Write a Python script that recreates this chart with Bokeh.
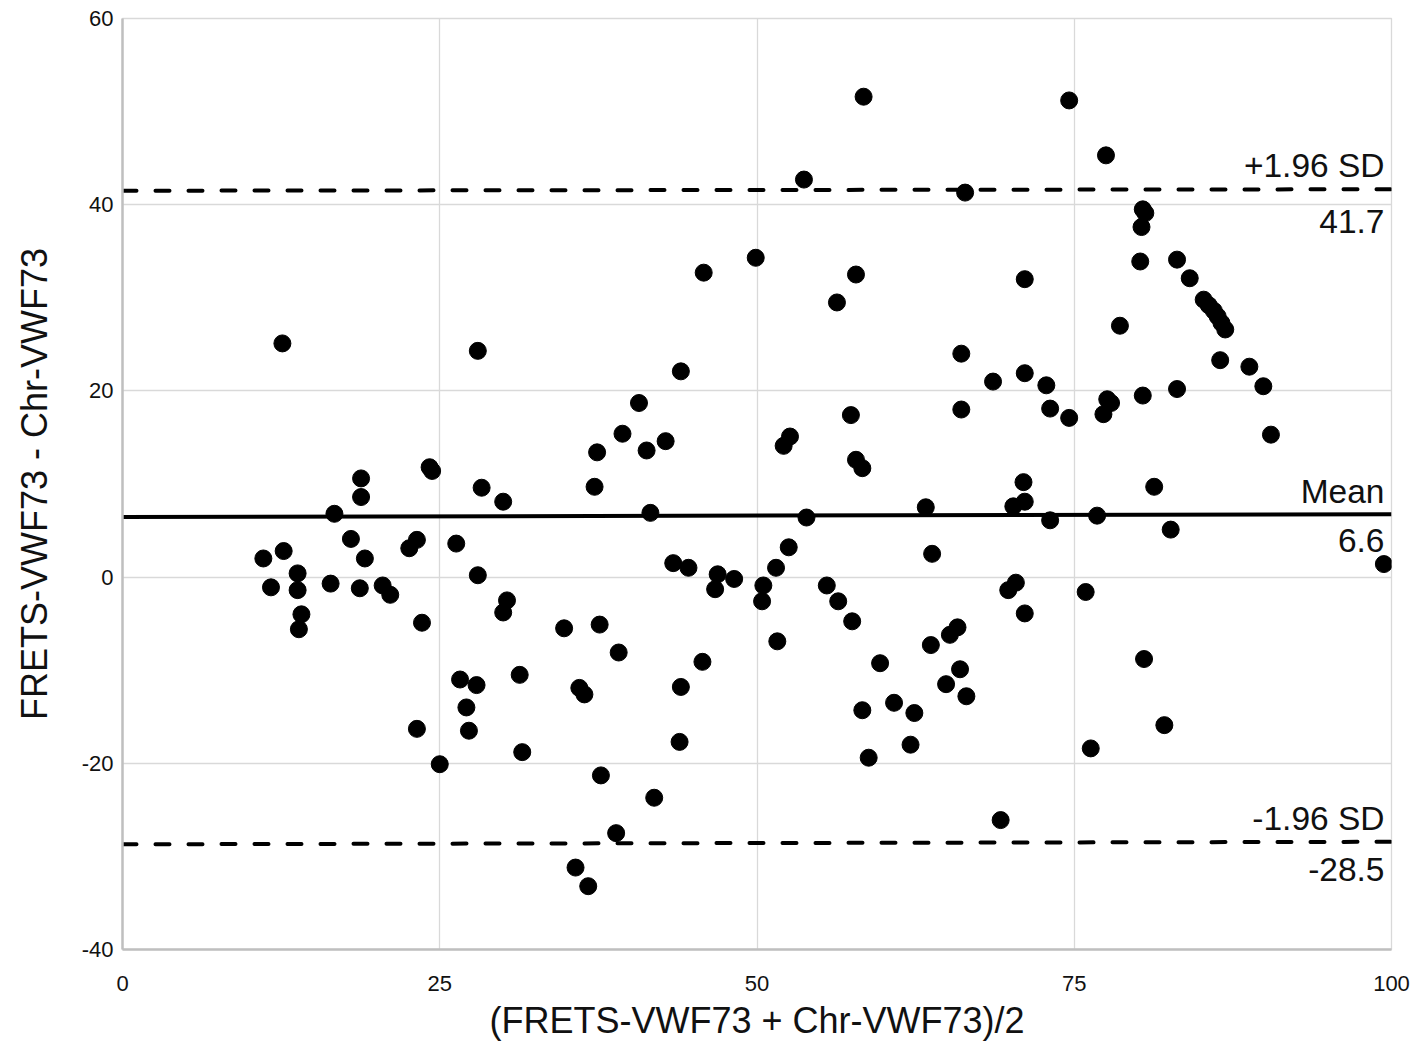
from bokeh.plotting import figure
from bokeh.models import Range1d, FixedTicker, ColumnDataSource, CustomJSTickFormatter
from bokeh.embed import file_html
from bokeh.resources import INLINE
from bokeh.core.properties import value

# Bland-Altman data: x = mean of the two methods, y = difference
mean_x = [
    11.1, 11.7, 12.7, 12.6, 13.8, 13.8, 13.9, 14.1, 16.7, 16.4, 18.0, 18.8, 18.8, 18.7, 19.1,
    20.5, 21.1, 22.6, 23.2, 23.6, 23.2, 24.2, 24.4, 25.0, 26.3, 26.6, 27.1, 27.3, 27.9, 28.0,
    28.0, 28.3, 30.0, 30.0, 30.3, 31.3, 31.5,
    34.8, 37.6, 37.4, 37.2, 39.4, 40.7, 41.3, 42.8, 41.6, 44.0, 45.8, 49.9, 43.4, 44.6, 46.9,
    46.7, 48.2, 50.5, 50.4, 39.1, 45.7, 36.0, 36.4, 44.0, 43.9, 37.7, 41.9, 38.9, 35.7, 36.7,
    58.4, 74.6, 53.7, 66.4, 57.8, 56.3, 71.1, 66.1, 68.6, 71.1, 72.8, 66.1, 73.1, 74.6, 57.4,
    52.6, 52.1, 57.8, 58.3, 71.0, 63.3, 70.2, 71.1, 73.1, 53.9, 52.5, 51.5, 55.5, 56.4, 57.5,
    51.6, 63.8, 70.4, 69.8, 71.1, 65.8, 65.2, 63.7, 66.0, 64.9, 66.5, 59.7, 58.3, 60.8, 62.4,
    62.1, 58.8, 69.2,
    77.5, 80.4, 80.6, 80.3, 80.2, 83.1, 84.1, 85.2, 85.6, 86.0, 86.3, 86.6, 86.9, 78.6, 86.5,
    88.8, 89.9, 90.5, 83.1, 80.4, 77.6, 77.9, 77.3, 81.3, 76.8, 82.6, 99.4, 75.9, 80.5, 82.1,
    76.3,
]
diff_y = [
    2.0, -1.1, 2.8, 25.1, 0.4, -1.4, -5.6, -4.0, 6.8, -0.7, 4.1, 10.6, 8.6, -1.2, 2.0,
    -0.9, -1.9, 3.1, 4.0, -4.9, -16.3, 11.8, 11.4, -20.1, 3.6, -11.0, -14.0, -16.5, -11.6, 0.2,
    24.3, 9.6, 8.1, -3.8, -2.5, -10.5, -18.8,
    -5.5, -5.1, 13.4, 9.7, 15.4, 18.7, 13.6, 14.6, 6.9, 22.1, 32.7, 34.3, 1.5, 1.0, 0.3,
    -1.3, -0.2, -0.9, -2.6, -8.1, -9.1, -11.9, -12.6, -11.8, -17.7, -21.3, -23.7, -27.5, -31.2, -33.2,
    51.6, 51.2, 42.7, 41.3, 32.5, 29.5, 32.0, 24.0, 21.0, 21.9, 20.6, 18.0, 18.1, 17.1, 17.4,
    15.1, 14.1, 12.6, 11.7, 10.2, 7.5, 7.6, 8.1, 6.1, 6.4, 3.2, 1.0, -0.9, -2.6, -4.75,
    -6.9, 2.5, -0.6, -1.4, -3.9, -5.4, -6.2, -7.3, -9.9, -11.5, -12.8, -9.25, -14.3, -13.5, -14.6,
    -18.0, -19.4, -26.1,
    45.3, 39.5, 39.1, 37.6, 33.9, 34.1, 32.1, 29.8, 29.2, 28.6, 28.0, 27.3, 26.6, 27.0, 23.3,
    22.6, 20.5, 15.3, 20.2, 19.5, 19.1, 18.7, 17.5, 9.7, 6.6, 5.1, 1.4, -1.6, -8.8, -15.9,
    -18.4,
]

# Reference lines (start / end of each drawn line)
line_x = [0, 100]
mean_line = [6.46, 6.75]
upper_line = [41.5, 41.66]
lower_line = [-28.7, -28.43]

# Line annotations
ann_text = ["+1.96 SD", "41.7", "Mean", "6.6", "-1.96 SD", "-28.5"]
ann_y = [upper_line[1], upper_line[1], mean_line[1], mean_line[1], lower_line[1], lower_line[1]]
ann_dy = [-24, 32, -23, 26, -23, 28]

x_ticks = [0, 25, 50, 75, 100]
y_ticks = [-40, -20, 0, 20, 40, 60]

FONT = "Liberation Sans"
TXT = "#111111"

p = figure(width=1410, height=1043, output_backend="svg", toolbar_location=None,
           x_range=Range1d(0, 100), y_range=Range1d(-40, 60),
           min_border_left=122, min_border_right=19, min_border_top=18, min_border_bottom=92)
p.background_fill_color = "white"
p.border_fill_color = "white"
p.outline_line_color = "#d9d9d9"
p.outline_line_width = 1.3

p.xaxis.ticker = FixedTicker(ticks=x_ticks)
p.yaxis.ticker = FixedTicker(ticks=y_ticks)
p.xgrid.ticker = FixedTicker(ticks=x_ticks)
p.ygrid.ticker = FixedTicker(ticks=y_ticks)
for g in (p.xgrid, p.ygrid):
    g.grid_line_color = "#d9d9d9"
    g.grid_line_width = 1.3

fmt = CustomJSTickFormatter(code="return tick.toString();")
for ax in (p.xaxis, p.yaxis):
    ax.formatter = fmt
    ax.axis_line_color = "#bfbfbf"
    ax.axis_line_width = 2.5
    ax.major_tick_line_color = None
    ax.minor_tick_line_color = None
    ax.major_tick_out = 0
    ax.major_tick_in = 0
    ax.major_label_text_font = FONT
    ax.major_label_text_font_size = "22px"
    ax.major_label_text_color = TXT
    ax.axis_label_text_font = FONT
    ax.axis_label_text_font_size = "36px"
    ax.axis_label_text_font_style = "normal"
    ax.axis_label_text_color = TXT

p.xaxis.axis_label = "(FRETS-VWF73 + Chr-VWF73)/2"
p.yaxis.axis_label = "FRETS-VWF73 - Chr-VWF73"
p.xaxis.major_label_standoff = 26
p.yaxis.major_label_standoff = 9
p.xaxis.axis_label_standoff = 6
p.yaxis.axis_label_standoff = 24

p.line(line_x, upper_line, line_color="black", line_width=4, line_dash="14 19", line_cap="round")
p.line(line_x, lower_line, line_color="black", line_width=4, line_dash="14 19", line_cap="round")
p.line(line_x, mean_line, line_color="black", line_width=4)

src = ColumnDataSource(dict(x=mean_x, y=diff_y))
p.scatter("x", "y", source=src, size=17, marker="circle", fill_color="black", line_color="black")

ann = ColumnDataSource(dict(x=[100] * len(ann_text), y=ann_y, text=ann_text, dy=ann_dy))
p.text("x", "y", text="text", source=ann, x_offset=-7, y_offset="dy",
       text_align="right", text_baseline="alphabetic",
       text_font=value(FONT), text_font_size="33.5px", text_color=TXT)

open("out.html", "w").write(file_html(p, INLINE))
